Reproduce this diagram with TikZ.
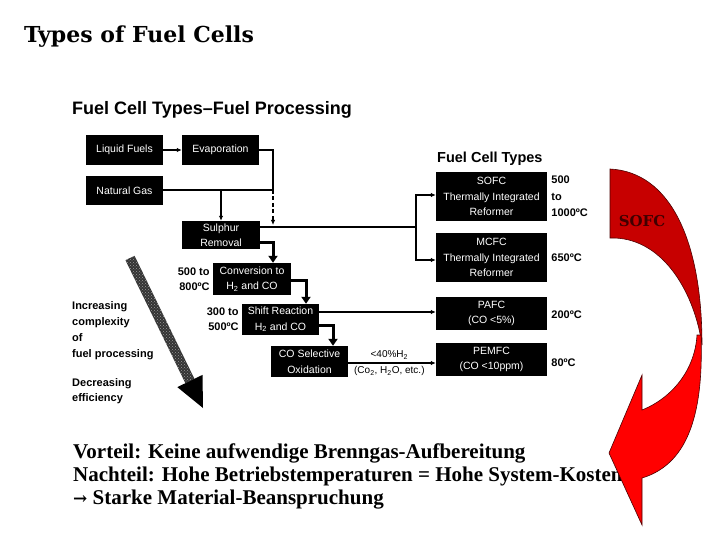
\documentclass[tikz,border=0pt]{standalone}
\usepackage{fontspec}
\setmainfont{Liberation Sans}
\newfontfamily\serifb{DejaVu Serif}
\newfontfamily\serift{Liberation Serif}
\usetikzlibrary{arrows.meta,calc,patterns}
\begin{document}
\begin{tikzpicture}[x=1pt,y=-1pt,
  blk/.style={fill=black,text=white,inner sep=0pt,align=center,font=\fontsize{10.5}{15.5}\selectfont},
  thinarr/.style={line width=1.1pt,-{Latex[length=5pt,width=4.5pt]}},
  thinline/.style={line width=1.1pt},
  fatarr/.style={line width=3pt,-{Triangle[length=7pt,width=9pt]}},
  lbl/.style={font=\bfseries\fontsize{11}{15}\selectfont,inner sep=0pt},
  small/.style={font=\fontsize{10}{12}\selectfont,inner sep=0pt},
  bigtxt/.style={font=\serift\bfseries\fontsize{21}{23}\selectfont,inner sep=0pt,anchor=base west},
]
\fill[white] (0,0) rectangle (720,540);
\useasboundingbox (0,0) rectangle (720,540);

% titles
\node[font=\serifb\bfseries\fontsize{22}{26}\selectfont,inner sep=0pt,anchor=base west] (title) at (24,43) {Types of Fuel Cells};
\node[font=\bfseries\fontsize{18}{20}\selectfont,inner sep=0pt,anchor=base west] (subtitle) at (72,115) {Fuel Cell Types–Fuel Processing};
\node[font=\bfseries\fontsize{14.5}{16}\selectfont,inner sep=0pt,anchor=base west] (fcthead) at (437,163) {Fuel Cell Types};

% process boxes
\node[blk,minimum width=77pt,minimum height=30pt] (liq) at (124.5,150) {Liquid Fuels};
\node[blk,minimum width=77pt,minimum height=30pt] (evap) at (220.5,150) {Evaporation};
\node[blk,minimum width=77pt,minimum height=29pt] (gas) at (124.5,190.5) {Natural Gas};
\node[blk,minimum width=78pt,minimum height=28pt] (sulph) at (221,235) {Sulphur\\Removal};
\node[blk,minimum width=78pt,minimum height=32pt] (conv) at (252,279) {Conversion to\\H\textsubscript{2} and CO};
\node[blk,minimum width=77pt,minimum height=31pt] (shift) at (280.5,319.5) {Shift Reaction\\H\textsubscript{2} and CO};
\node[blk,minimum width=77pt,minimum height=31pt] (cosel) at (309.5,361.5) {CO Selective\\Oxidation};

% fuel cell boxes
\node[blk,minimum width=111pt,minimum height=49pt] (sofc) at (491.5,196.5) {SOFC\\Thermally Integrated\\Reformer};
\node[blk,minimum width=111pt,minimum height=49pt] (mcfc) at (491.5,257.5) {MCFC\\Thermally Integrated\\Reformer};
\node[blk,minimum width=111pt,minimum height=33pt] (pafc) at (491.5,313.5) {PAFC\\(CO <5\%)};
\node[blk,minimum width=111pt,minimum height=33pt] (pemfc) at (491.5,359.5) {PEMFC\\(CO <10ppm)};

% temperatures
\node[lbl,align=right,anchor=east] (t1) at ([xshift=-3pt]conv.west) {500 to\\800ºC};
\node[lbl,align=right,anchor=east] (t2) at ([xshift=-3pt]shift.west) {300 to\\500ºC};
\node[lbl,align=left,anchor=west,font=\bfseries\fontsize{11}{16.5}\selectfont] (t3) at ([xshift=4pt]sofc.east) {500\\to\\1000ºC};
\node[lbl,anchor=west] (t4) at ([xshift=4pt]mcfc.east) {650ºC};
\node[lbl,anchor=west] (t5) at ([xshift=4pt,yshift=-1.5pt]pafc.east) {200ºC};
\node[lbl,anchor=west] (t6) at ([xshift=4pt,yshift=-3.5pt]pemfc.east) {80ºC};

% left texts
\node[lbl,align=left,anchor=west,font=\bfseries\fontsize{11}{16}\selectfont] (incr) at (72,331) {Increasing\\complexity\\of\\fuel processing};
\node[lbl,align=left,anchor=west,font=\bfseries\fontsize{11}{15}\selectfont] (decr) at (72,391.5) {Decreasing\\efficiency};

% connectors
\coordinate (j1) at (273,190);
\coordinate (j2) at (416,227);
\draw[thinarr] (liq.east) -- (evap.west);
\draw[thinline] (evap.east) -| (j1) -- (gas.east |- j1);
\draw[thinarr] (sulph.north |- j1) -- (sulph.north);
\draw[thinarr,dashed,dash pattern=on 4pt off 2.5pt] (j1) -- ([yshift=2pt]j1 |- j2);
\draw[thinline] (sulph.east |- j2) -- (j2);
\draw[thinarr] (j2) |- ([yshift=1.5pt]sofc.west);
\draw[thinarr] (j2) |- ([yshift=-2.5pt]mcfc.west);
\draw[fatarr] ([yshift=-7pt]sulph.east) -| ([xshift=21pt]conv.north);
\draw[fatarr] ([yshift=-1pt]conv.east) -| ([xshift=25.5pt]shift.north);
\draw[fatarr] ([yshift=-5.5pt]shift.east) -| ([xshift=23.5pt]cosel.north);
\draw[thinarr] ([yshift=1.5pt]shift.east |- pafc.west) -- ([yshift=1.5pt]pafc.west);
\draw[thinarr] ([yshift=-3.5pt]cosel.east |- pemfc.west) -- ([yshift=-3.5pt]pemfc.west) node[small,pos=0.47,above=3pt] (h2) {<40\%H\textsubscript{2}} node[small,pos=0.47,below=3pt] (co2) {(Co\textsubscript{2}, H\textsubscript{2}O, etc.)};

% hatched arrow
\fill[black!80] (134.5,255.8) -- (194.4,378.8) -- (185.4,383.2) -- (125.5,260.2) -- cycle;
\fill[pattern=crosshatch dots,pattern color=black!40] (134.5,255.8) -- (194.4,378.8) -- (185.4,383.2) -- (125.5,260.2) -- cycle;
\fill[black] (194.4,378.8) -- (202.5,374.9) -- (203,408) -- (177.3,387.1) -- (185.4,383.2) -- cycle;

% bottom text
\node[bigtxt] (l1) at (73,458) {Vorteil: Keine aufwendige Brenngas-Aufbereitung};
\node[bigtxt] (l2) at (73,481) {Nachteil: Hohe Betriebstemperaturen = Hohe System-Kosten};
\node[bigtxt] (l3) at (73,504) {{\serifb\fontsize{17}{23}\selectfont →} Starke Material-Beanspruchung};

% red twisted arrow
\filldraw[fill=red!78!black,draw=red!30!black,line width=0.6pt]
  (610,169) .. controls (670,172) and (702,240) .. (702,345)
  .. controls (695,295) and (665,240) .. (615,238) -- (610,238) -- cycle;
\filldraw[fill=red,draw=red!30!black,line width=0.6pt]
  (701,335) .. controls (704,420) and (685,465) .. (642,478)
  -- (642,525) -- (609,453) -- (642,375) -- (642,410)
  .. controls (672,398) and (695,370) .. (697,335) -- cycle;
\node[font=\serifb\bfseries\fontsize{15}{17}\selectfont,text=red!25!black,inner sep=0pt] (sofclbl) at (642,221) {SOFC};
\end{tikzpicture}
\end{document}
